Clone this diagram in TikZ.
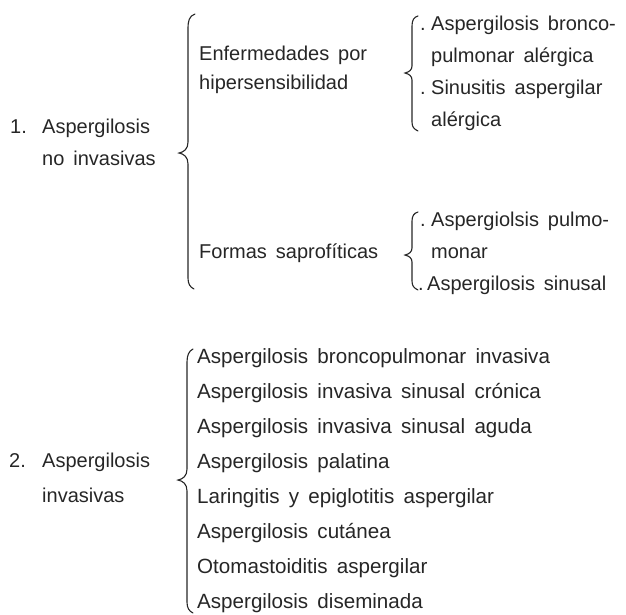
\documentclass[tikz,border=0pt]{standalone}
\usepackage{fontspec}
\setmainfont{Liberation Sans}
\newcommand\mytxtfont{\fontsize{20}{22}\selectfont\spaceskip=0.45em\relax}
\newcommand\mylistfont{\fontsize{20.6}{23}\selectfont\spaceskip=0.45em\relax}
\begin{document}
\begin{tikzpicture}[x=1pt,y=-1pt,
  txt/.style={anchor=base west,inner sep=0pt,font=\mytxtfont,text=black!85},
  lst/.style={anchor=base west,inner sep=0pt,font=\mylistfont,text=black!85},
  brc/.style={line width=1.1pt,black!85,line cap=round}]
\useasboundingbox (0,0) rectangle (626,614);
% ---- section 1 ----
\node[txt] (n1) at (10,133) {1.};
\node[txt] (a1) at (42,133) {Aspergilosis};
\node[txt] (a1b) at (42,165) {no invasivas};
\draw[brc] (195,14) .. controls (189,16) and (188,21) .. (188,29) -- (188,142) .. controls (188,149) and (184,152) .. (179,153) .. controls (184,154) and (188,157) .. (188,164) -- (188,278) .. controls (188,284) and (190,287) .. (194,289);
\node[txt] (e1) at (199,60) {Enfermedades por};
\node[txt] (e2) at (199,89) {hipersensibilidad};
\node[txt] (f1) at (199,258) {Formas saprof\'iticas};
\draw[brc] (418,16) .. controls (414,17) and (412,20) .. (412,26) -- (412,66) .. controls (412,70) and (409,72) .. (405,73) .. controls (409,74) and (412,76) .. (412,80) -- (412,122) .. controls (412,127) and (414,129) .. (418,131);
\node[txt] (h1) at (420,30) {.};
\node[txt] (h1t) at (431,30) {Aspergilosis bronco-};
\node[txt] (h2t) at (431,62) {pulmonar al\'ergica};
\node[txt] (h3) at (420,94) {.};
\node[txt] (h3t) at (431,94) {Sinusitis aspergilar};
\node[txt] (h4t) at (431,126) {al\'ergica};
\draw[brc] (418,212) .. controls (414,213) and (412,216) .. (412,221) -- (412,248) .. controls (412,252) and (409,254) .. (405,255) .. controls (409,256) and (412,258) .. (412,262) -- (412,281) .. controls (412,286) and (414,288) .. (418,290);
\node[txt] (s1) at (420,226) {.};
\node[txt] (s1t) at (431,226) {Aspergiolsis pulmo-};
\node[txt] (s2t) at (431,258) {monar};
\node[txt] (s3) at (418,290) {.};
\node[txt] (s3t) at (427,290) {Aspergilosis sinusal};
% ---- section 2 ----
\node[txt] (n2) at (9,467) {2.};
\node[txt] (a2) at (42,467) {Aspergilosis};
\node[txt] (a2b) at (42,502) {invasivas};
\draw[brc] (193,349) .. controls (189,351) and (187,355) .. (187,362) -- (187,469) .. controls (187,476) and (183,479) .. (178,480) .. controls (183,481) and (187,484) .. (187,491) -- (187,602) .. controls (187,608) and (189,611) .. (193,613);
\node[lst] (b1) at (197,363) {Aspergilosis broncopulmonar invasiva};
\node[lst] (b2) at (197,398) {Aspergilosis invasiva sinusal cr\'onica};
\node[lst] (b3) at (197,433) {Aspergilosis invasiva sinusal aguda};
\node[lst] (b4) at (197,468) {Aspergilosis palatina};
\node[lst] (b5) at (197,503) {Laringitis y epiglotitis aspergilar};
\node[lst] (b6) at (197,538) {Aspergilosis cut\'anea};
\node[lst] (b7) at (197,573) {Otomastoiditis aspergilar};
\node[lst] (b8) at (197,608) {Aspergilosis diseminada};
\end{tikzpicture}
\end{document}
